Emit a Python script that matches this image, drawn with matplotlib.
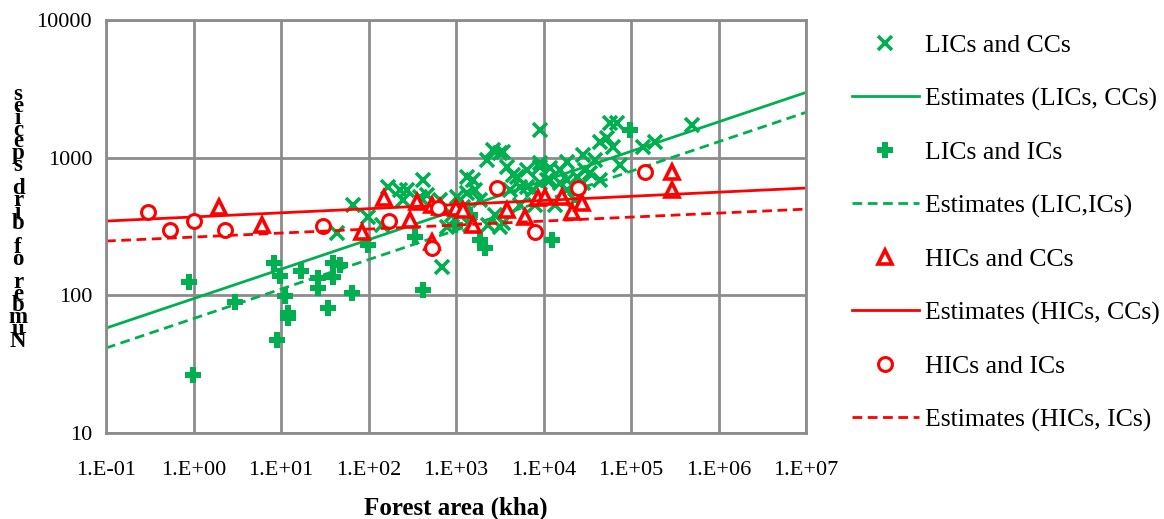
import numpy as np
import matplotlib
matplotlib.use('Agg')
import matplotlib.pyplot as plt

plt.rcParams['font.family'] = ['Liberation Serif', 'DejaVu Serif']

# LICs and CCs (forest area kha, number of bird species)
lic_cc_x = [43.6, 66.5, 98.6, 143, 167, 229, 275, 248, 420, 388, 467, 656, 692, 789,
            1336, 1565, 1336, 1203, 2260, 2650, 3184, 3828, 4980, 6477, 9120, 9120,
            10960, 3184, 3444, 4477, 9120, 11860, 18580, 28250, 44260, 57540, 69180,
            53200, 62230, 44260, 33960, 24150, 18580, 15450, 11860, 9120, 7590, 5380,
            4140, 3444, 137000, 188000, 498000, 18580, 28250, 1880, 2790, 5380, 8000,
            13520, 22900, 1026, 900, 1650, 29800, 6477, 15450, 38800, 74800, 1445, 2320]
lic_cc_y = [283, 453, 371, 324, 611, 582, 582, 492, 687, 518, 535, 492, 161, 313,
            722, 687, 553, 437, 961, 1135, 1080, 855, 722, 611, 1585, 855,
            687, 313, 1100, 748, 914, 839, 929, 1045, 1297, 1782, 1782,
            1387, 1194, 687, 773, 722, 687, 655, 687, 655, 582, 611,
            582, 335, 1194, 1297, 1726, 582, 655, 492, 383, 453, 453,
            453, 492, 518, 383, 582, 813, 813, 813, 961, 883, 324, 324]

# LICs and ICs
lic_ic_x = [0.89, 0.99, 2.98, 8.3, 9.75, 11.1, 12.0, 12.0, 9.0, 16.9, 26.5, 26.5, 39.3,
            47.2, 39.3, 34.4, 64.7, 98.6, 340, 420, 1880, 2140, 12500, 97500, 1445, 975]
lic_ic_y = [125, 26.4, 89, 172, 138, 99, 74, 68, 47, 150, 134, 113, 172,
            166, 136, 81, 104, 232, 265, 109, 252, 220, 252, 1585, 383, 324]

# HICs and CCs
hic_cc_x = [1.95, 6.07, 84, 150, 298, 358, 532, 656, 532, 1000, 1203, 1565, 3828, 6150,
            8650, 10400, 16260, 21180, 27540, 294000, 294000]
hic_cc_y = [437, 324, 288, 509, 352, 476, 453, 437, 244, 430, 416, 324, 416, 371,
            509, 518, 518, 403, 468, 785, 582]

# HICs and ICs
hic_ic_x = [0.30, 0.54, 1.0, 2.29, 30, 171, 622, 2944, 8000, 24770, 144500, 532]
hic_ic_y = [403, 298, 347, 298, 318, 347, 430, 601, 288, 601, 785, 220]

# power-law estimates y = a * x^b
est_lic_cc = (94.6, 0.214)
est_lic_ic = (67.8, 0.214)
est_hic_cc = (371, 0.030)
est_hic_ic = (265, 0.029)

x_ticks = [1e-1, 1e0, 1e1, 1e2, 1e3, 1e4, 1e5, 1e6, 1e7]
x_tick_labels = ['1.E-01', '1.E+00', '1.E+01', '1.E+02', '1.E+03',
                 '1.E+04', '1.E+05', '1.E+06', '1.E+07']
y_ticks = [10, 100, 1000, 10000]
y_tick_labels = ['10', '100', '1000', '10000']

green = '#00B050'
red = '#FF0000'
grid_col = '#8C8C8C'

fig = plt.figure(figsize=(11.64, 5.19), dpi=100)
ax = fig.add_axes([106 / 1164, 1 - 433 / 519, 700 / 1164, 413 / 519])

xl = np.logspace(-1, 7, 100)

ax.plot(lic_cc_x, lic_cc_y, linestyle='none', marker='x', ms=9.5, mew=2.6, color=green,
        label='LICs and CCs')
ax.plot(xl, est_lic_cc[0] * xl ** est_lic_cc[1], color=green, lw=2,
        label='Estimates (LICs, CCs)')
ax.plot(lic_ic_x, lic_ic_y, linestyle='none', marker='P', ms=11, mew=0, color=green,
        label='LICs and ICs')
ax.plot(xl, est_lic_ic[0] * xl ** est_lic_ic[1], color=green, lw=2, dashes=(3.5, 2),
        label='Estimates (LIC,ICs)')
ax.plot(hic_cc_x, hic_cc_y, linestyle='none', marker='^', ms=10, mew=2.6, color=red,
        mfc='white', label='HICs and CCs')
ax.plot(xl, est_hic_cc[0] * xl ** est_hic_cc[1], color=red, lw=2,
        label='Estimates (HICs, CCs)')
ax.plot(hic_ic_x, hic_ic_y, linestyle='none', marker='o', ms=10, mew=2.2, color=red,
        mfc='white', label='HICs and ICs')
ax.plot(xl, est_hic_ic[0] * xl ** est_hic_ic[1], color=red, lw=2, dashes=(3.5, 2),
        label='Estimates (HICs, ICs)')

ax.set_xscale('log')
ax.set_yscale('log')
ax.set_xlim(1e-1, 1e7)
ax.set_ylim(10, 10000)
ax.set_xticks(x_ticks)
ax.set_xticklabels(x_tick_labels)
ax.set_yticks(y_ticks)
ax.set_yticklabels(y_tick_labels)
ax.minorticks_off()
ax.tick_params(length=0, labelsize=16)
ax.tick_params(axis='y', pad=10)
ax.tick_params(axis='x', pad=20)
ax.grid(True, color=grid_col, lw=2)
ax.set_axisbelow(True)
for s in ax.spines.values():
    s.set_color(grid_col)
    s.set_linewidth(2)

ax.set_xlabel('Forest area (kha)', fontsize=18, fontweight='bold', labelpad=12)

# stacked y label: one letter per line, read from bottom to top
ylab = 'Number of bird species'
stacked = '\n'.join(reversed(ylab))
fig.text(18 / 1164, 1 - 218 / 519, stacked, fontsize=16.5, fontweight='bold',
         ha='center', va='center', multialignment='center', linespacing=0.42)

fig.legend(loc='upper left', bbox_to_anchor=(852 / 1164, 1 - 34 / 519), frameon=False,
           fontsize=18.5, handlelength=2.6, handletextpad=0.25, labelspacing=1.18,
           borderpad=0, borderaxespad=0, numpoints=1)

fig.savefig('out.png', dpi=100)
